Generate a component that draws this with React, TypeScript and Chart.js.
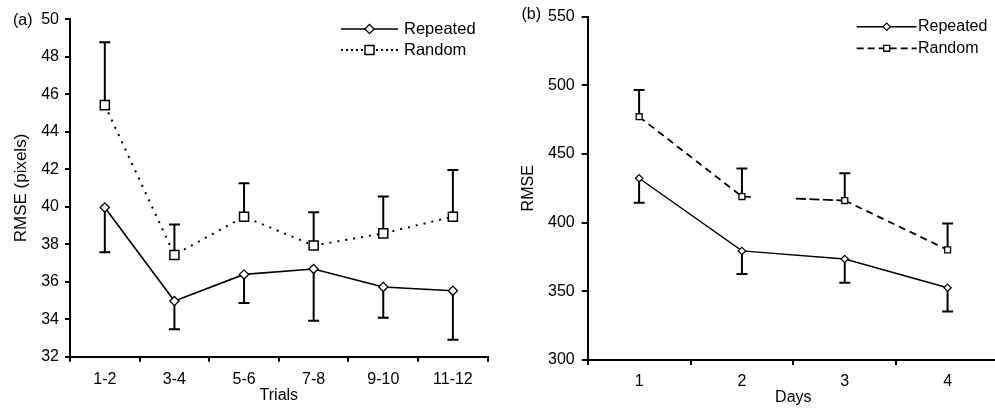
import React, { useEffect, useRef } from 'react';
import { Chart, registerables } from 'chart.js';
import { drawPoint } from 'chart.js/helpers';

Chart.register(...registerables);

// ---- Data: panel (a) ----
const trials = ['1-2', '3-4', '5-6', '7-8', '9-10', '11-12'];
const repeatedTrials = [39.96, 34.97, 36.39, 36.68, 35.72, 35.52];
const repeatedTrialsLow = [37.57, 33.46, 34.86, 33.92, 34.08, 32.91];
const randomTrials = [45.42, 37.43, 39.47, 37.93, 38.58, 39.47];
const randomTrialsHigh = [48.78, 39.05, 41.25, 39.7, 40.54, 41.96];
const yTicksA = [32, 50, 2]; // min, max, step

// ---- Data: panel (b) ----
const days = ['1', '2', '3', '4'];
const repeatedDays = [432.3, 379.4, 373.5, 352.6];
const repeatedDaysLow = [414.5, 362.7, 356.2, 335.3];
const randomDays = [477.1, 419.0, 416.1, 380.2];
const randomDaysHigh = [496.5, 439.5, 435.9, 399.4];
const yTicksB = [300, 550, 50];

const FONT = "'Liberation Sans', Arial, Helvetica, sans-serif";

const errorBarPlugin = {
  id: 'errorBars',
  beforeDatasetsDraw(chart: any) {
    const { ctx } = chart;
    const ys = chart.scales.y;
    chart.data.datasets.forEach((ds: any, i: number) => {
      const ends = ds.errorEnds;
      if (!ends) return;
      const meta = chart.getDatasetMeta(i);
      ctx.save();
      ctx.strokeStyle = '#000';
      ctx.lineWidth = 2;
      ctx.setLineDash([]);
      meta.data.forEach((pt: any, j: number) => {
        const v = ends[j];
        if (v == null) return;
        const y1 = ys.getPixelForValue(v);
        ctx.beginPath();
        ctx.moveTo(pt.x, pt.y);
        ctx.lineTo(pt.x, y1);
        ctx.moveTo(pt.x - 5.5, y1);
        ctx.lineTo(pt.x + 5.5, y1);
        ctx.stroke();
      });
      ctx.restore();
    });
  },
};

const legendPlugin = {
  id: 'lineLegend',
  afterDraw(chart: any, _args: any, opts: any) {
    const { ctx } = chart;
    chart.data.datasets.forEach((ds: any, i: number) => {
      const y = opts.rows[i];
      ctx.save();
      ctx.strokeStyle = '#000';
      ctx.lineWidth = ds.borderWidth;
      ctx.setLineDash(opts.dashes[i] || []);
      ctx.beginPath();
      ctx.moveTo(opts.x0, y);
      ctx.lineTo(opts.x1, y);
      ctx.stroke();
      ctx.setLineDash([]);
      ctx.fillStyle = '#fff';
      ctx.strokeStyle = '#000';
      ctx.lineWidth = ds.pointBorderWidth;
      drawPoint(ctx, { pointStyle: ds.pointStyle, radius: ds.pointRadius, rotation: 0, borderWidth: ds.pointBorderWidth } as any, (opts.x0 + opts.x1) / 2, y);
      ctx.fillStyle = '#000';
      ctx.font = opts.font;
      ctx.textBaseline = 'middle';
      ctx.textAlign = 'left';
      ctx.fillText(ds.label, opts.textX, y);
      ctx.restore();
    });
    ctx.save();
    ctx.fillStyle = '#000';
    ctx.font = opts.panelFont;
    ctx.textBaseline = 'middle';
    ctx.textAlign = 'left';
    ctx.fillText(opts.panel, opts.panelX, opts.panelY);
    ctx.restore();
  },
};

function buildConfig(p: any) {
  return {
    type: 'line',
    data: { labels: p.labels, datasets: p.datasets },
    plugins: [errorBarPlugin, legendPlugin],
    options: {
      responsive: false,
      animation: false,
      devicePixelRatio: 1,
      layout: { padding: { top: p.padTop, right: p.padRight, left: 0, bottom: 0 } },
      plugins: {
        legend: { display: false },
        tooltip: { enabled: false },
        lineLegend: p.legend,
      },
      scales: {
        x: {
          type: 'category',
          offset: true,
          afterFit: (s: any) => { s.height = p.xHeight; },
          grid: { offset: true, drawOnChartArea: false, color: '#000', lineWidth: 2, tickLength: 5 },
          border: { color: '#000', width: 2 },
          ticks: { color: '#000', font: { family: FONT, size: 16 }, padding: p.xTickPad, maxRotation: 0 },
          title: { display: true, text: p.xTitle, color: '#000', font: { family: FONT, size: 16 }, padding: { top: 0, bottom: p.xTitlePad } },
        },
        y: {
          min: p.yTicks[0],
          max: p.yTicks[1],
          afterFit: (s: any) => { s.width = p.yWidth; },
          grid: { drawOnChartArea: false, color: '#000', lineWidth: 2, tickLength: p.yTickLen },
          border: { color: '#000', width: 2 },
          ticks: { stepSize: p.yTicks[2], color: '#000', font: { family: FONT, size: 16 }, padding: p.yTickPad },
          title: { display: true, text: p.yTitle, color: '#000', font: { family: FONT, size: p.yTitleSize }, padding: { top: p.yTitlePad, bottom: 0 } },
        },
      },
    },
  };
}

function ChartCanvas({ config, width, height, left }: any) {
  const ref = useRef<HTMLCanvasElement>(null);
  useEffect(() => {
    const chart = new Chart(ref.current as HTMLCanvasElement, config as any);
    return () => chart.destroy();
  }, []);
  return (
    <canvas
      ref={ref}
      width={width}
      height={height}
      style={{ position: 'absolute', left, top: 0, width, height }}
    />
  );
}

export default function App() {
  const configA = buildConfig({
    labels: trials,
    datasets: [
      {
        label: 'Repeated',
        data: repeatedTrials,
        errorEnds: repeatedTrialsLow,
        borderColor: '#000',
        borderWidth: 1.6,
        pointStyle: 'rectRot',
        pointRadius: 4.6,
        pointBorderWidth: 1.3,
        pointBackgroundColor: '#fff',
        pointBorderColor: '#000',
        tension: 0,
        fill: false,
      },
      {
        label: 'Random',
        data: randomTrials,
        errorEnds: randomTrialsHigh,
        borderColor: '#000',
        borderWidth: 2,
        borderDash: [2, 6],
        pointStyle: 'rect',
        pointRadius: 6.4,
        pointBorderWidth: 1.5,
        pointBackgroundColor: '#fff',
        pointBorderColor: '#000',
        tension: 0,
        fill: false,
      },
    ],
    padTop: 19.3,
    padRight: 12.3,
    xHeight: 52.3,
    yWidth: 70,
    xTickPad: 8,
    yTickPad: 6,
    yTickLen: 5,
    xTitle: 'Trials',
    xTitlePad: 4,
    yTitle: 'RMSE (pixels)',
    yTitleSize: 17,
    yTitlePad: 11.5,
    yTicks: yTicksA,
    legend: {
      x0: 341,
      x1: 398,
      textX: 404,
      rows: [29, 50],
      dashes: [[], [2, 3]],
      font: `16.5px ${FONT}`,
      panel: '(a)',
      panelX: 13,
      panelY: 21,
      panelFont: `16px ${FONT}`,
    },
  });

  const configB = buildConfig({
    labels: days,
    datasets: [
      {
        label: 'Repeated',
        data: repeatedDays,
        errorEnds: repeatedDaysLow,
        borderColor: '#000',
        borderWidth: 1.4,
        pointStyle: 'rectRot',
        pointRadius: 3.7,
        pointBorderWidth: 1.2,
        pointBackgroundColor: '#fff',
        pointBorderColor: '#000',
        tension: 0,
        fill: false,
      },
      {
        label: 'Random',
        data: randomDays,
        errorEnds: randomDaysHigh,
        borderColor: '#000',
        borderWidth: 1.8,
        borderDash: [7, 5],
        segment: {
          borderDash: (ctx: any) => (ctx.p0DataIndex === 1 ? [9, 45, 10, 3.5, 10, 3.5, 10, 3.5, 10, 10] : undefined),
        },
        pointStyle: 'rect',
        pointRadius: 4.2,
        pointBorderWidth: 1.3,
        pointBackgroundColor: '#fff',
        pointBorderColor: '#000',
        tension: 0,
        fill: false,
      },
    ],
    padTop: 12.7,
    padRight: 6,
    xHeight: 49,
    yWidth: 87.7,
    xTickPad: 7,
    yTickPad: 7,
    yTickLen: 6,
    xTitle: 'Days',
    xTitlePad: 1.5,
    yTitle: 'RMSE',
    yTitleSize: 16,
    yTitlePad: 19.4,
    yTicks: yTicksB,
    legend: {
      x0: 356.7,
      x1: 416.7,
      textX: 418,
      rows: [26.7, 48.3],
      dashes: [[], [7, 4]],
      font: `16px ${FONT}`,
      panel: '(b)',
      panelX: 21.5,
      panelY: 15,
      panelFont: `16px ${FONT}`,
    },
  });

  return (
    <div
      style={{
        position: 'fixed',
        left: 0,
        top: 0,
        width: 995,
        height: 409,
        overflow: 'hidden',
        background: '#fff',
      }}
    >
      <ChartCanvas config={configA} width={500} height={409} left={0} />
      <ChartCanvas config={configB} width={505} height={409} left={500} />
    </div>
  );
}
